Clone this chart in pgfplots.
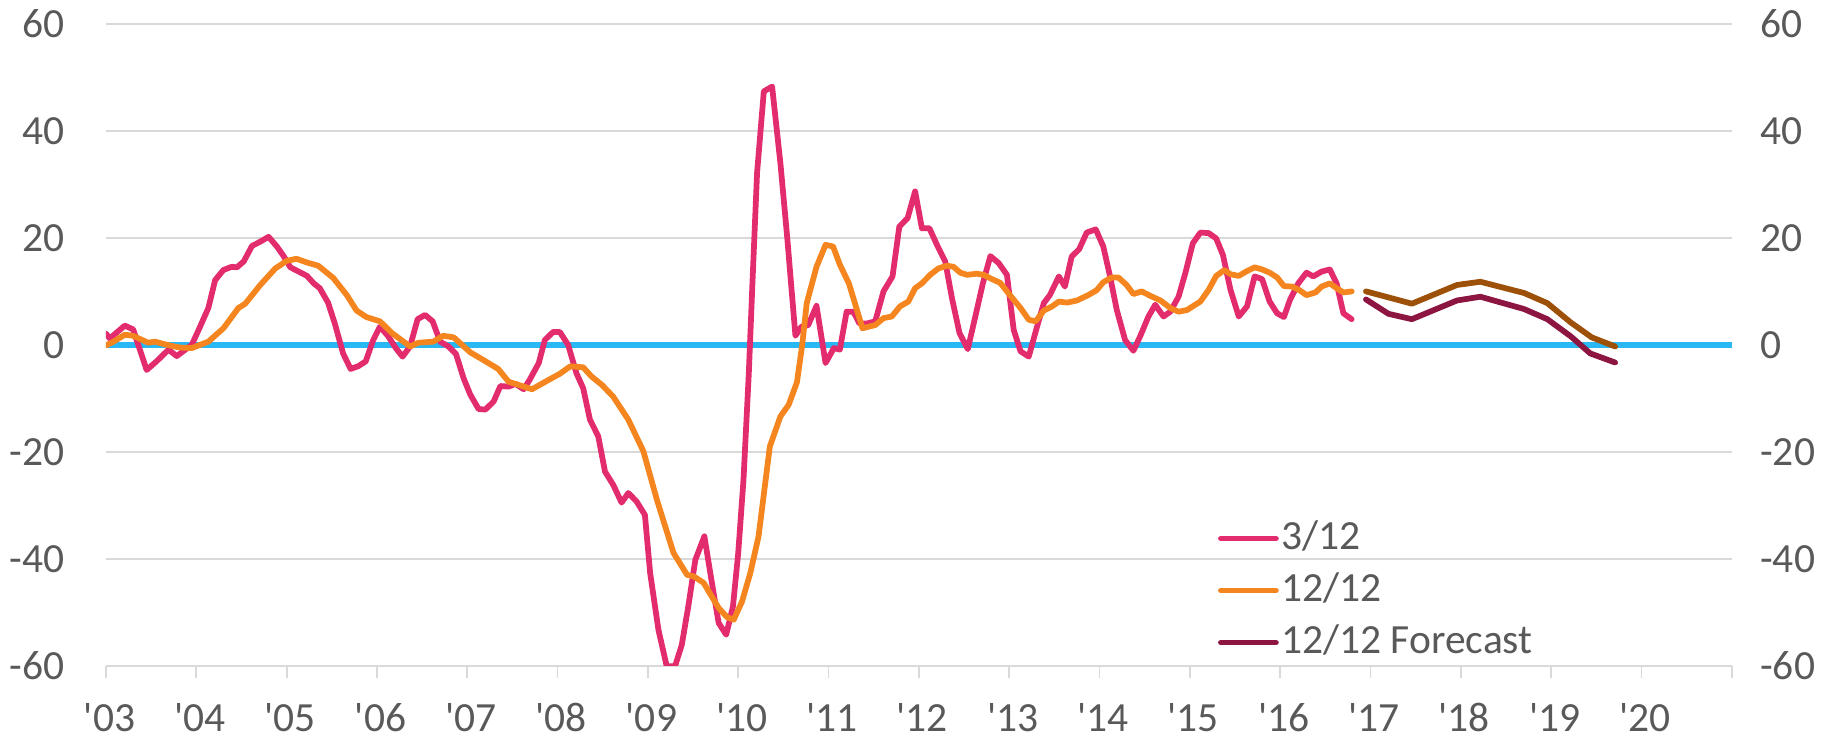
\documentclass[border=0pt]{standalone}
\usepackage{pgfplots}
\pgfplotsset{compat=1.18}
\usepackage{fontspec}
\setmainfont{Carlito}
\definecolor{pinkc}{RGB}{226,44,110}
\definecolor{orangec}{RGB}{245,133,31}
\definecolor{brownc}{RGB}{156,80,8}
\definecolor{maroonc}{RGB}{140,22,65}
\definecolor{zeroblue}{RGB}{41,184,243}
\definecolor{textgray}{RGB}{89,89,89}
\definecolor{gridgray}{RGB}{217,217,217}
\begin{document}
\begin{tikzpicture}
\pgfplotsset{
  base/.style={
    scale only axis, width=650.3pt, height=256.7pt,
    xmin=0, xmax=216, ymin=-60, ymax=60,
    ytick={-60,-40,...,60},
    /pgf/number format/assume math mode=true,
    every tick label/.append style={font=\fontsize{16.6}{20}\selectfont, text=textgray},
  }
}
\begin{axis}[base,
  axis line style={draw=none},
  xtick={0,12,...,216},
  xticklabels={\textquotesingle03,\textquotesingle04,\textquotesingle05,\textquotesingle06,\textquotesingle07,\textquotesingle08,\textquotesingle09,\textquotesingle10,\textquotesingle11,\textquotesingle12,\textquotesingle13,\textquotesingle14,\textquotesingle15,\textquotesingle16,\textquotesingle17,\textquotesingle18,\textquotesingle19,\textquotesingle20,{}},
  xtick pos=bottom, ytick pos=left,
  tick align=outside, major tick length=4.8pt,
  xtick style={draw=gridgray, line width=0.7pt},
  ytick style={draw=none},
  ymajorgrids, major grid style={gridgray, line width=0.7pt},
  xticklabel style={anchor=base, inner sep=0pt, yshift=-21.5pt, xshift=1.4pt},
  yticklabel style={anchor=east, inner sep=0pt, xshift=-11.6pt},
  legend cell align=left,
  legend style={draw=none, fill=none, at={(rel axis cs:0.6837,0.232)}, anchor=north west,
    font=\fontsize{16.6}{20}\selectfont, text=textgray, inner sep=0pt, row sep=3.8pt, column sep=0pt,
    nodes={inner xsep=1pt, inner ysep=0pt, text height=13pt, text depth=4pt}},
  legend image code/.code={\draw[#1, line cap=round] (0pt,0pt) -- (22pt,0pt);},
  every axis plot/.append style={line join=round, line cap=round},
]
\coordinate (sw) at (rel axis cs:0,0);
\coordinate (ne) at (rel axis cs:1,1);
\addplot[zeroblue, line width=2.6pt, line cap=butt, forget plot] coordinates {(0,0) (216,0)};
\addplot[pinkc, line width=2.3pt] coordinates {
(0,2.1)(0.5,1.2)(2.5,3.6)(3.6,2.9)(5.4,-4.7)(6.7,-3.1)(8.3,-0.9)(9.4,-2.1)(11.4,0)(12.5,3.4)(13.6,6.9)(14.5,12.1)(15.6,14.0)(16.7,14.6)(17.4,14.5)(18.3,15.6)(19.4,18.5)(20.5,19.3)(21.6,20.2)(22.7,18.4)(23.6,16.6)(24.5,14.5)(25.6,13.7)(26.7,12.9)(27.6,11.5)(28.4,10.6)(29.5,7.9)(30.4,4.0)(31.5,-1.6)(32.5,-4.5)(33.5,-4.0)(34.5,-3.1)(35.5,0.9)(36.4,3.4)(37.5,1.6)(38.5,-0.6)(39.4,-2.2)(40.4,-0.3)(41.4,4.8)(42.4,5.6)(43.4,4.4)(44.4,0.6)(45.5,-0.3)(46.5,-1.7)(47.5,-6.2)(48.4,-9.3)(49.5,-12.0)(50.4,-12.1)(51.5,-10.6)(52.4,-7.7)(53.5,-7.8)(54.4,-7.3)(55.5,-8.3)(56.3,-6.5)(57.5,-3.4)(58.3,0.9)(59.4,2.4)(60.3,2.4)(61.4,0)(62.5,-5.3)(63.4,-8.1)(64.3,-14.0)(65.4,-17.1)(66.3,-23.7)(67.4,-26.2)(68.5,-29.5)(69.4,-27.7)(70.5,-29.3)(71.6,-31.8)(72.3,-42.7)(73.4,-53.3)(74.5,-60.1)(75.6,-60.1)(76.5,-56.1)(77.4,-48.6)(78.3,-40.2)(79.5,-35.8)(80.5,-44.5)(81.4,-52.0)(82.4,-54.2)(83.3,-48.9)(84.0,-38.9)(84.7,-25.2)(85.4,-5.5)(85.9,12)(86.5,32.1)(87.4,47.4)(88.5,48.3)(89.6,34.0)(90.5,20.2)(91.6,1.7)(92.4,3.4)(93.3,3.7)(94.4,7.3)(95.6,-3.4)(96.7,-0.6)(97.5,-0.9)(98.4,6.2)(99.3,6.2)(100.1,4.0)(101.1,4.0)(102.2,4.4)(103.3,10.0)(104.5,12.8)(105.4,22.1)(106.5,23.7)(107.5,28.7)(108.4,21.8)(109.4,21.8)(110.5,18.4)(111.5,15.6)(112.4,8.7)(113.4,2.2)(114.5,-0.8)(115.5,5.3)(116.5,11.5)(117.5,16.6)(118.6,15.3)(119.7,13.1)(120.6,2.8)(121.5,-1.2)(122.6,-2.2)(123.7,3.4)(124.6,7.8)(125.4,9.3)(126.6,12.8)(127.4,10.9)(128.3,16.5)(129.3,17.9)(130.3,21.0)(131.5,21.6)(132.5,18.4)(133.4,12.8)(134.3,6.5)(135.4,0.9)(136.5,-1.1)(137.4,1.6)(138.5,5.3)(139.4,7.5)(140.5,5.3)(141.4,6.2)(142.5,9.0)(143.4,13.4)(144.4,19.0)(145.4,21.0)(146.5,20.9)(147.5,19.9)(148.4,16.8)(149.4,10.3)(150.5,5.3)(151.6,7.2)(152.6,12.8)(153.6,12.3)(154.6,8.1)(155.6,5.9)(156.5,5.2)(157.3,8.4)(158.4,11.5)(159.5,13.5)(160.4,12.8)(161.5,13.7)(162.6,14.1)(163.5,11.5)(164.4,5.9)(165.5,4.8)
};
\addlegendentry{3/12}
\addplot[orangec, line width=2.3pt] coordinates {
(0,-0.1)(1,0.6)(2.5,1.9)(3.6,1.7)(5.6,0.4)(6.5,0.6)(8.1,0)(9.8,-0.5)(11.4,-0.6)(13.6,0.6)(15.6,3.1)(17.6,6.9)(18.5,7.7)(20.5,11.2)(22.5,14.3)(24.0,15.7)(25.3,16.1)(26.7,15.4)(28.2,14.8)(30.2,12.5)(32.0,9.3)(33.3,6.4)(34.6,5.2)(36.4,4.4)(38.0,2.2)(40.4,-0.3)(41.5,0.4)(43.5,0.6)(44.8,1.7)(46.2,1.4)(48.4,-1.4)(50.1,-2.8)(52.1,-4.5)(53.5,-6.9)(55.5,-7.8)(56.6,-8.3)(59.0,-6.4)(60.3,-5.4)(61.7,-4.0)(63.4,-4.2)(64.5,-5.9)(65.9,-7.5)(67.4,-9.7)(69.4,-14.0)(71.4,-19.9)(73.2,-29.0)(75.4,-38.9)(77.2,-43.0)(78.1,-43.3)(79.4,-44.5)(81.4,-49.2)(82.5,-50.9)(83.4,-51.4)(84.5,-48.0)(85.6,-42.7)(86.7,-35.8)(88.2,-19.0)(89.6,-13.4)(90.7,-11.2)(91.8,-7)(92.5,0)(93.1,7.8)(94.4,14.6)(95.6,18.7)(96.6,18.4)(97.5,15.0)(98.7,11.5)(99.5,7.8)(100.5,3.1)(102.2,3.7)(103.3,5.0)(104.4,5.3)(105.5,7.2)(106.6,8.1)(107.5,10.6)(108.4,11.5)(109.5,13.1)(110.6,14.3)(111.7,14.8)(112.6,14.6)(113.5,13.5)(114.4,13.1)(115.7,13.3)(116.6,13.1)(117.7,12.3)(118.8,11.6)(120.1,9.3)(121.5,6.9)(122.6,4.7)(123.5,4.4)(124.6,6.4)(125.7,7.2)(126.6,8.1)(127.7,7.9)(129.0,8.3)(130.5,9.3)(131.6,10.2)(132.5,11.7)(133.6,12.6)(134.5,12.6)(135.6,11.2)(136.5,9.5)(137.6,10.0)(138.7,9.2)(140.1,8.3)(141.4,6.9)(142.5,6.2)(143.6,6.5)(145.4,8.1)(146.5,10.3)(147.5,12.9)(148.6,14.0)(149.4,13.2)(150.5,12.9)(151.6,13.8)(152.6,14.5)(153.6,14.1)(154.6,13.5)(155.6,12.6)(156.5,11.0)(157.6,10.9)(158.6,10.2)(159.5,9.3)(160.7,9.8)(161.5,10.9)(162.6,11.5)(163.5,10.6)(164.4,9.8)(165.5,10.0)
};
\addlegendentry{12/12}
\addplot[brownc, line width=2.3pt, forget plot] coordinates {
(167.4,10.0)(173.5,7.7)(179.5,11.2)(182.6,11.8)(188.4,9.7)(191.5,7.8)(194.6,4.2)(197.4,1.4)(200.5,-0.3)
};
\addplot[maroonc, line width=2.3pt] coordinates {
(167.4,8.5)(170.4,5.8)(173.5,4.8)(179.5,8.3)(182.6,9.0)(188.4,6.7)(191.5,4.8)(194.6,1.6)(197.2,-1.6)(200.5,-3.3)
};
\addlegendentry{12/12 Forecast}
\end{axis}
\begin{axis}[base,
  axis x line=none, axis y line*=right,
  axis line style={draw=none},
  ytick style={draw=none},
  yticklabel style={anchor=west, inner sep=0pt, xshift=11.2pt},
]
\end{axis}
\pgfresetboundingbox
\path ([shift={(-42.4pt,-29.7pt)}]sw) rectangle ([shift={(40.9pt,9.6pt)}]ne);
\end{tikzpicture}
\end{document}
